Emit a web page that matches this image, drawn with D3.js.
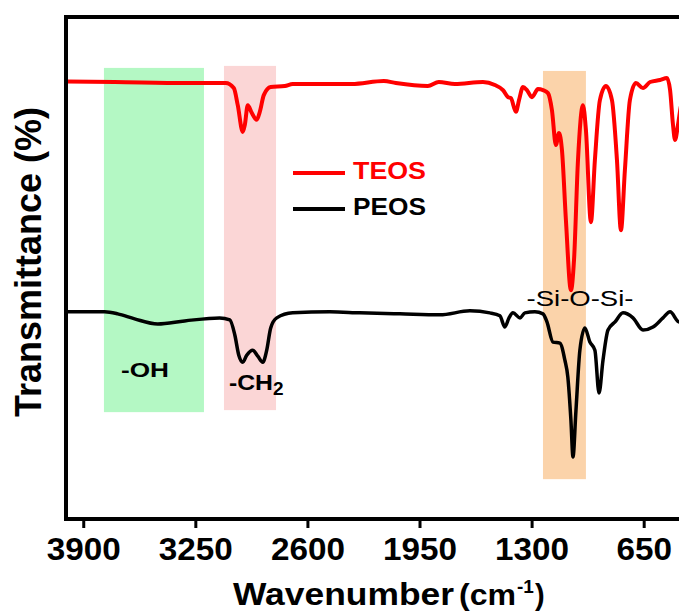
<!DOCTYPE html>
<html><head><meta charset="utf-8">
<script src="https://cdn.jsdelivr.net/npm/d3@7"></script>
<style>
html,body{margin:0;padding:0;background:#fff;}
svg{display:block;font-family:"Liberation Sans",Arial,sans-serif;}
</style></head>
<body>
<svg id="chart" width="679" height="615"></svg>
<script>
// wavenumber (cm-1) and transmittance (a.u. %)
const teosWave = [4000,3718,3306,3074,3027,3004,2975,2963,2946,2923,2894,2876,2853,2813,2731,2685,2343,2157,2087,1902,1838,1745,1582,1513,1466,1437,1420,1391,1373,1350,1327,1298,1263,1234,1205,1182,1159,1141,1124,1101,1072,1054,1031,1002,985,956,933,904,869,834,805,782,759,730,695,654,613,555,515,497,480,468,451,433,400];
const teosT    = [87.2,87.1,86.9,86.9,85.9,82.5,77.2,78.6,82.5,81.0,79.6,81.2,84.5,86.1,86.3,86.7,86.7,87.3,86.9,86.3,87.1,86.7,87.1,86.5,85.5,84.1,83.9,81.2,83.5,86.1,85.5,84.1,85.7,85.5,84.9,81.5,74.6,77.0,73.6,59.7,45.8,51.8,71.6,82.5,77.6,59.3,71.6,83.5,86.3,83.5,71.6,57.7,69.6,83.5,86.9,85.9,87.1,87.5,87.9,85.5,78.6,75.6,78.6,82.5,84.5];

const peosWave = [4000,3776,3700,3602,3468,3312,3109,3050,3021,2998,2975,2952,2917,2888,2859,2836,2813,2778,2685,2470,2296,2064,1832,1658,1542,1484,1455,1431,1408,1367,1339,1281,1234,1211,1176,1136,1107,1090,1072,1060,1043,1020,991,962,933,909,886,857,816,770,712,654,596,538,497,445,400];
const peosT    = [41.5,41.5,41.1,40.1,39.1,39.7,40.3,39.9,36.9,32.9,31.5,32.9,33.9,32.7,31.5,33.9,38.3,40.3,41.3,41.5,41.3,41.1,40.9,41.7,41.3,40.7,38.5,40.3,41.3,40.3,41.3,41.5,41.1,39.5,35.5,35.3,31.9,28.6,20.0,12.7,21.8,33.9,38.3,35.5,33.9,25.4,31.9,37.9,39.5,41.3,40.3,37.9,38.5,40.3,41.5,39.5,40.3];

// highlighted bands: [from, to] wavenumber, [bottom, top] transmittance
const bandLabels = ["-OH","-CH2","-Si-O-Si-"];
const bandFrom   = [3780,3084,1234];
const bandTo     = [3200,2782,985];
const bandLow    = [21.6,22.0,8.3];
const bandHigh   = [89.9,90.3,89.3];
const bandColors = ["#b4f8c4","#fbd6d6","#fbd3aa"];

const xTicks = [3900,3250,2600,1950,1300,650];
const seriesNames = ["TEOS","PEOS"];
const seriesColors = ["#ff0000","#000000"];

(function(){
const svg = d3.select("#chart");
const L = 66, R = 686.8, T = 17, B = 519;
const x = d3.scaleLinear().domain([4000,400]).range([L,R]);
const y = d3.scaleLinear().domain([0,100]).range([521,17]);

bandFrom.forEach((f,i)=>{
  svg.append("rect")
    .attr("x", x(f)).attr("width", x(bandTo[i]) - x(f))
    .attr("y", y(bandHigh[i])).attr("height", y(bandLow[i]) - y(bandHigh[i]))
    .attr("fill", bandColors[i]);
});

const line = d3.line().x(d=>x(d[0])).y(d=>y(d[1])).curve(d3.curveMonotoneX);
const teos = teosWave.map((w,i)=>[w,teosT[i]]);
const peos = peosWave.map((w,i)=>[w,peosT[i]]);

svg.append("path").datum(peos).attr("d",line).attr("fill","none")
  .attr("stroke",seriesColors[1]).attr("stroke-width",3.5).attr("stroke-linejoin","round");
svg.append("path").datum(teos).attr("d",line).attr("fill","none")
  .attr("stroke",seriesColors[0]).attr("stroke-width",4).attr("stroke-linejoin","round");

svg.append("rect").attr("x",L).attr("y",T).attr("width",R-L).attr("height",B-T)
  .attr("fill","none").attr("stroke","#000").attr("stroke-width",4);

const xAxis = d3.axisBottom(x).tickValues(xTicks).tickFormat(d3.format("d"))
  .tickSize(9).tickSizeOuter(0).tickPadding(10);
const gx = svg.append("g").attr("transform",`translate(0,${B})`).call(xAxis);
gx.select(".domain").remove();
gx.selectAll(".tick line").attr("stroke","#000").attr("stroke-width",3);
gx.selectAll(".tick text").attr("font-size",31).attr("font-weight","bold").attr("fill","#000")
  .attr("font-family","'Liberation Sans',Arial,sans-serif").attr("dy","0.72em")
  .attr("textLength",d=>String(d).length*18.5).attr("lengthAdjust","spacingAndGlyphs");

const xt = svg.append("text").attr("x",233).attr("y",605)
  .attr("font-weight","bold").attr("fill","#000");
xt.append("tspan").attr("font-size",31).attr("textLength",221).attr("lengthAdjust","spacingAndGlyphs").text("Wavenumber");
xt.append("tspan").attr("x",459).attr("font-size",29).attr("textLength",57).attr("lengthAdjust","spacingAndGlyphs").text("(cm");
xt.append("tspan").attr("font-size",19).attr("dy",-12).attr("dx",1).text("-1");
xt.append("tspan").attr("font-size",29).attr("dy",12).attr("dx",1).text(")");

svg.append("text").attr("transform","translate(41,262) rotate(-90)").attr("text-anchor","middle")
  .attr("font-size",36).attr("font-weight","bold").attr("fill","#000").text("Transmittance (%)");

seriesNames.forEach((n,i)=>{
  const yy = 173 + i*36;
  svg.append("line").attr("x1",293).attr("x2",345).attr("y1",yy).attr("y2",yy)
    .attr("stroke",seriesColors[i]).attr("stroke-width",4);
  svg.append("text").attr("x",353).attr("y",yy+6).attr("font-size",24).attr("font-weight","bold")
    .attr("fill",seriesColors[i]).attr("textLength",73).attr("lengthAdjust","spacingAndGlyphs").text(n);
});

svg.append("text").attr("x",121).attr("y",377).attr("font-size",21).attr("font-weight","bold")
  .attr("fill","#000").attr("textLength",48).attr("lengthAdjust","spacingAndGlyphs").text(bandLabels[0]);
const ch = svg.append("text").attr("x",229).attr("y",390).attr("font-size",22).attr("font-weight","bold").attr("fill","#000");
ch.append("tspan").attr("textLength",44).attr("lengthAdjust","spacingAndGlyphs").text("-CH");
ch.append("tspan").attr("font-size",19).attr("dy",5).text("2");
svg.append("text").attr("x",580).attr("y",306).attr("text-anchor","middle").attr("font-size",22)
  .attr("fill","#000").attr("textLength",107).attr("lengthAdjust","spacingAndGlyphs").text(bandLabels[2]);
})();
</script>
</body></html>
